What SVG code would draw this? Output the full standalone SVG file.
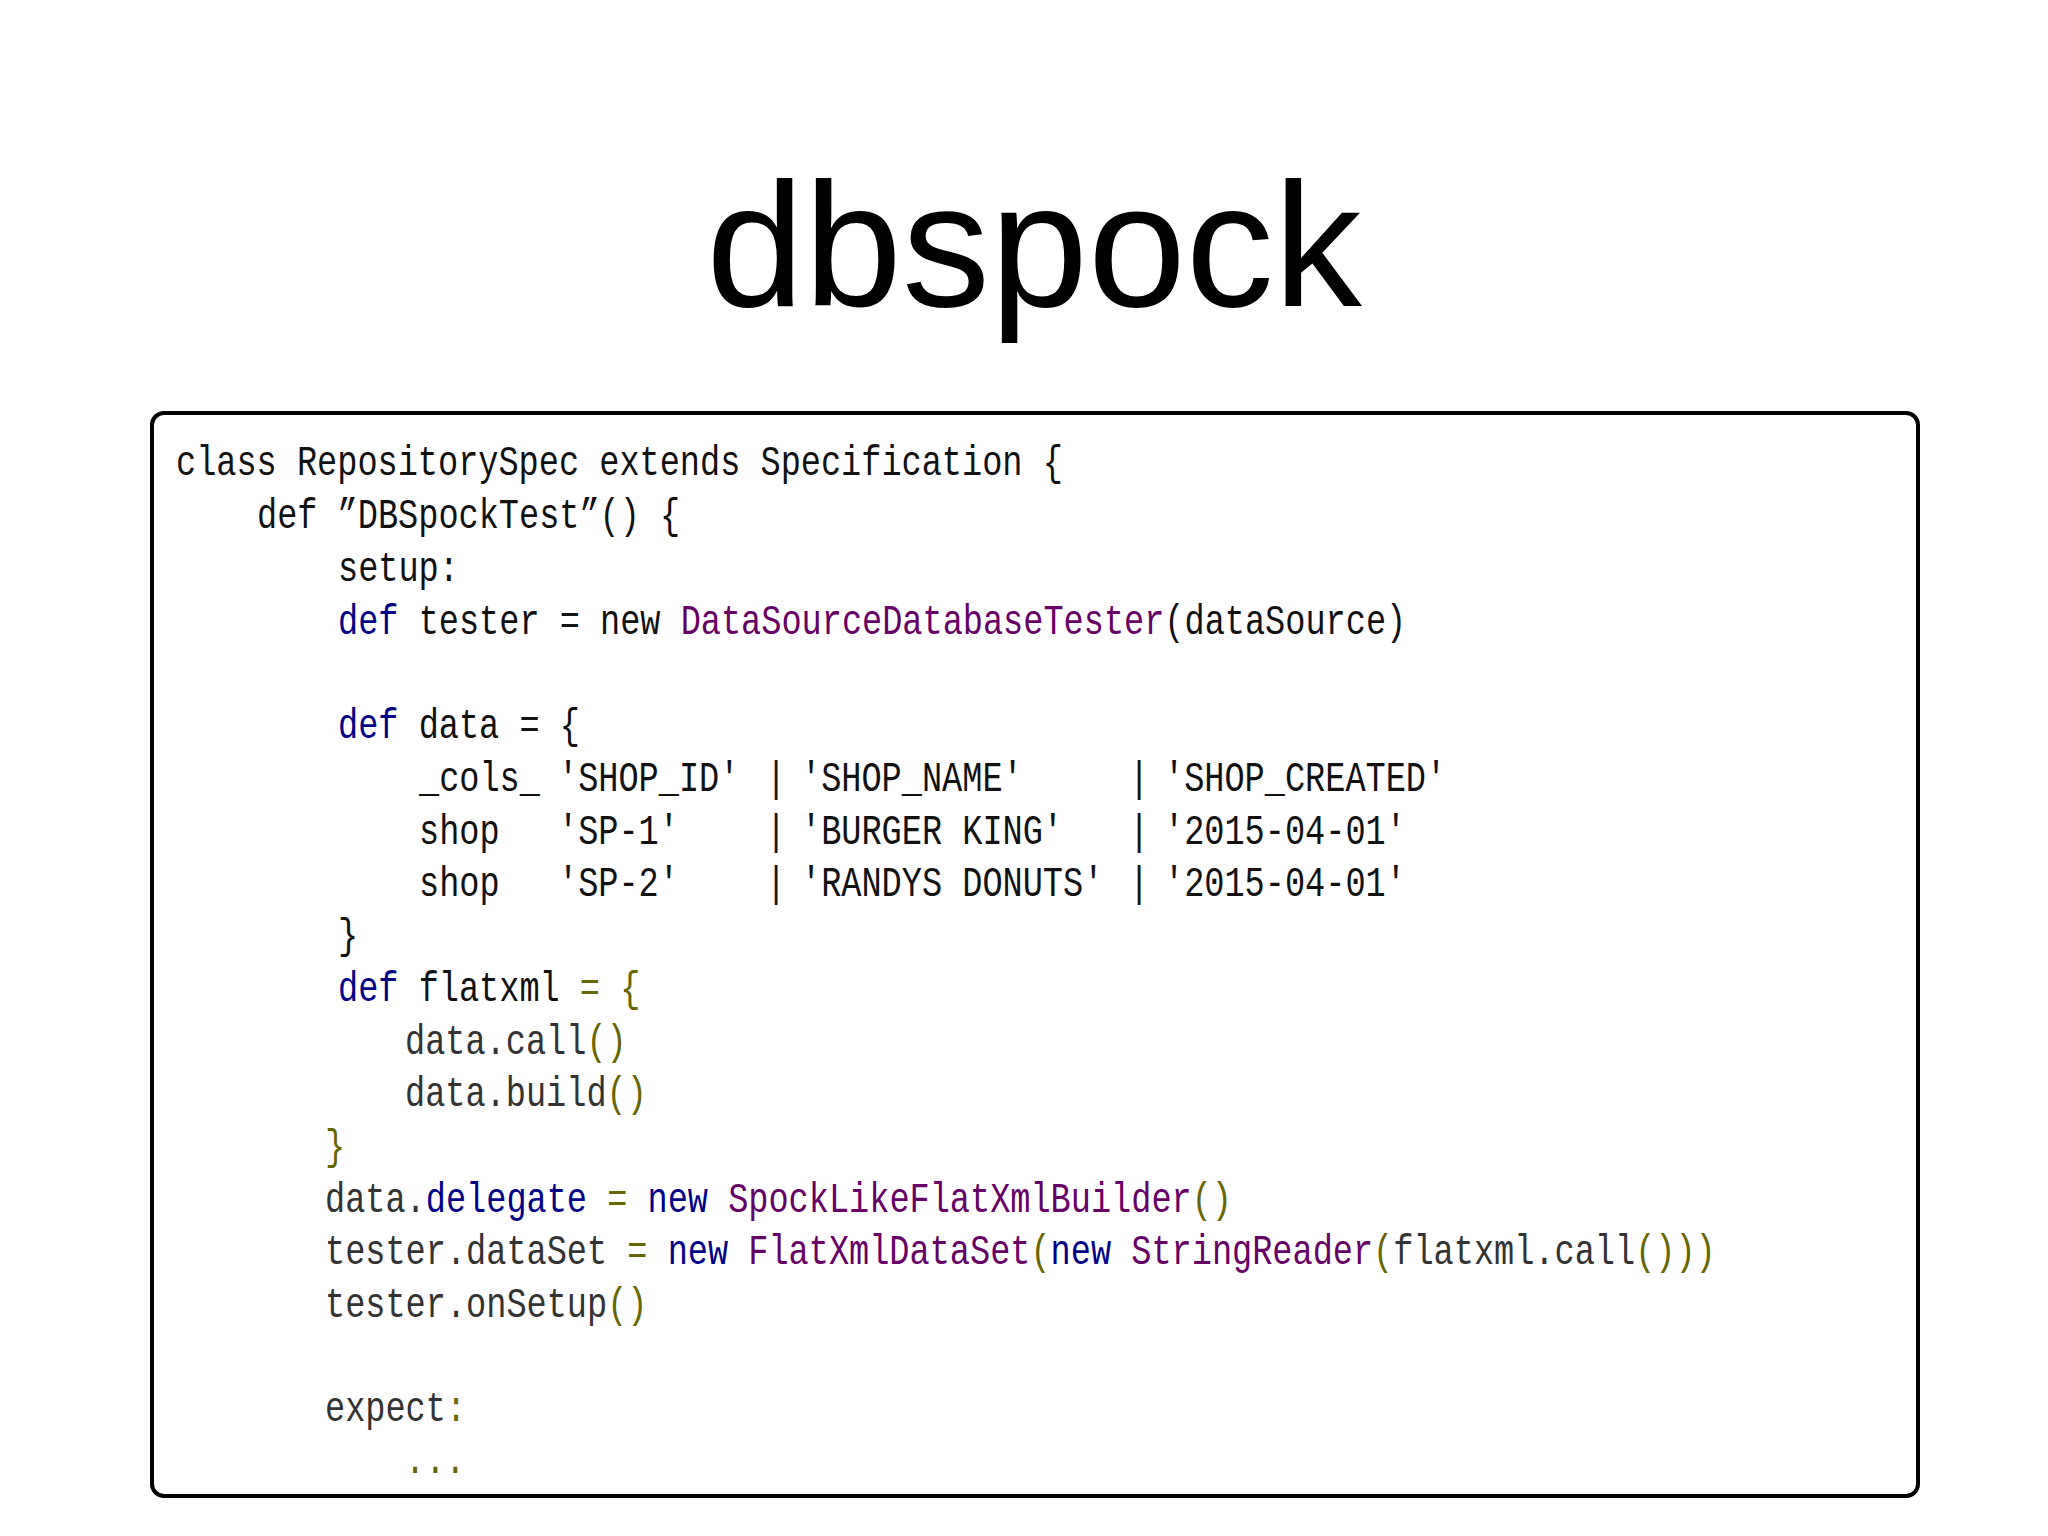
<svg xmlns="http://www.w3.org/2000/svg" width="2048" height="1536" viewBox="0 0 2048 1536">
<style>
.c{font-family:"Liberation Mono",monospace;font-size:42px;fill:#111}
.k{fill:#000088}.p{fill:#660066}.o{fill:#666600}.g{fill:#333}
</style>
<rect width="2048" height="1536" fill="#fff"/>
<text x="1034" y="306" font-family="Liberation Sans,Arial,sans-serif" font-size="176" text-anchor="middle" fill="#000">dbspock</text>
<g id="code">
<rect x="152" y="413" width="1766" height="1083" rx="12" fill="none" stroke="#000" stroke-width="4"/>
<g class="c" xml:space="preserve">
<text transform="translate(176,475) scale(0.8,1)">class RepositorySpec extends Specification {</text>
<text transform="translate(257,528) scale(0.8,1)">def ”DBSpockTest”() {</text>
<text transform="translate(338,581) scale(0.8,1)">setup:</text>
<text transform="translate(338,634) scale(0.8,1)"><tspan class="k">def</tspan> tester = new <tspan class="p">DataSourceDatabaseTester</tspan>(dataSource)</text>
<text transform="translate(338,738) scale(0.8,1)"><tspan class="k">def</tspan> data = {</text>
<text transform="translate(419,791) scale(0.8,1)">_cols_</text>
<text transform="translate(558,791) scale(0.8,1)">'SHOP_ID'</text>
<text transform="translate(766,791) scale(0.8,1)">|</text>
<text transform="translate(801,791) scale(0.8,1)">'SHOP_NAME'</text>
<text transform="translate(1129,791) scale(0.8,1)">|</text>
<text transform="translate(1164,791) scale(0.8,1)">'SHOP_CREATED'</text>
<text transform="translate(419,844) scale(0.8,1)">shop</text>
<text transform="translate(558,844) scale(0.8,1)">'SP-1'</text>
<text transform="translate(766,844) scale(0.8,1)">|</text>
<text transform="translate(801,844) scale(0.8,1)">'BURGER KING'</text>
<text transform="translate(1129,844) scale(0.8,1)">|</text>
<text transform="translate(1164,844) scale(0.8,1)">'2015-04-01'</text>
<text transform="translate(419,896) scale(0.8,1)">shop</text>
<text transform="translate(558,896) scale(0.8,1)">'SP-2'</text>
<text transform="translate(766,896) scale(0.8,1)">|</text>
<text transform="translate(801,896) scale(0.8,1)">'RANDYS DONUTS'</text>
<text transform="translate(1129,896) scale(0.8,1)">|</text>
<text transform="translate(1164,896) scale(0.8,1)">'2015-04-01'</text>
<text transform="translate(338,948) scale(0.8,1)">}</text>
<text transform="translate(338,1001) scale(0.8,1)"><tspan class="k">def</tspan> flatxml <tspan class="o">= {</tspan></text>
<text transform="translate(405,1054) scale(0.8,1)"><tspan class="g">data.call</tspan><tspan class="o">()</tspan></text>
<text transform="translate(405,1106) scale(0.8,1)"><tspan class="g">data.build</tspan><tspan class="o">()</tspan></text>
<text transform="translate(325,1159) scale(0.8,1)"><tspan class="o">}</tspan></text>
<text transform="translate(325,1212) scale(0.8,1)"><tspan class="g">data.</tspan><tspan class="k">delegate</tspan><tspan class="o"> = </tspan><tspan class="k">new</tspan> <tspan class="p">SpockLikeFlatXmlBuilder</tspan><tspan class="o">()</tspan></text>
<text transform="translate(325,1264) scale(0.8,1)"><tspan class="g">tester.dataSet</tspan><tspan class="o"> = </tspan><tspan class="k">new</tspan> <tspan class="p">FlatXmlDataSet</tspan><tspan class="o">(</tspan><tspan class="k">new</tspan> <tspan class="p">StringReader</tspan><tspan class="o">(</tspan><tspan class="g">flatxml.call</tspan><tspan class="o">()))</tspan></text>
<text transform="translate(325,1317) scale(0.8,1)"><tspan class="g">tester.onSetup</tspan><tspan class="o">()</tspan></text>
<text transform="translate(325,1421) scale(0.8,1)"><tspan class="g">expect</tspan><tspan class="o">:</tspan></text>
<text transform="translate(405,1473) scale(0.8,1)"><tspan class="o">...</tspan></text>
</g>
</g>
</svg>
